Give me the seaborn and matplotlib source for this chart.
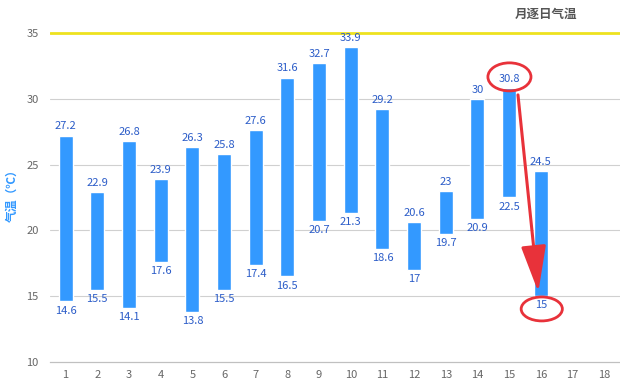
import matplotlib
matplotlib.use("Agg")
import pandas as pd
import seaborn as sns
import matplotlib.pyplot as plt
from matplotlib.patches import Ellipse

# daily temperature range
days      = [str(d) for d in range(1, 17)]
all_days  = [str(d) for d in range(1, 19)]
max_temp  = [27.2, 22.9, 26.8, 23.9, 26.3, 25.8, 27.6, 31.6, 32.7, 33.9, 29.2, 20.6, 23, 30, 30.8, 24.5]
min_temp  = [14.6, 15.5, 14.1, 17.6, 13.8, 15.5, 17.4, 16.5, 20.7, 21.3, 18.6, 17, 19.7, 20.9, 22.5, 15]
y_ticks   = [10, 15, 20, 25, 30, 35]
hot_line  = 35

sns.set_theme(style="white")
plt.rcParams['font.family'] = ['Noto Sans CJK SC', 'DejaVu Sans']

df = pd.DataFrame({'day': days, 'lo': min_temp, 'hi': max_temp})
df['span'] = df['hi'] - df['lo']

fig = plt.figure(figsize=(6.2, 3.86), dpi=100)
ax = fig.add_axes([0.0803, 0.0622, 0.9197, 0.9378])

sns.barplot(data=df, x='day', y='span', order=all_days, color='#3399ff',
            saturation=1, width=0.44, ax=ax)

# float the bars: move each bar up to its minimum
for patch, lo in zip(ax.patches, df['lo']):
    patch.set_y(lo)

label_col = '#2b5cc8'
for i, (lo, hi) in enumerate(zip(df['lo'], df['hi'])):
    ax.annotate(f"{hi:g}", (i, hi), xytext=(0, 3), textcoords='offset points',
                ha='center', va='bottom', fontsize=8, color=label_col)
    ax.annotate(f"{lo:g}", (i, lo), xytext=(0, -3), textcoords='offset points',
                ha='center', va='top', fontsize=8, color=label_col)

ax.set_ylim(10, 37.5)
ax.set_xlim(-0.5, 17.1)
ax.set_yticks(y_ticks)
ax.set_yticklabels([str(t) for t in y_ticks], fontsize=8, color='#666666')
ax.set_xticks(range(len(all_days)))
ax.set_xticklabels(all_days, fontsize=8, color='#666666')
ax.set_xticks([i + 0.5 for i in range(len(all_days))], minor=True)
ax.tick_params(axis='x', which='major', length=0, pad=6)
ax.tick_params(axis='x', which='minor', length=4, color='#bbbbbb', width=0.8, direction='out')
ax.tick_params(axis='y', length=0, pad=8)

for t in y_ticks[1:-1]:
    ax.axhline(t, color='#d0d0d0', lw=0.8, zorder=0)
ax.axhline(hot_line, color='#eee21f', lw=2, zorder=1)

for s in ['top', 'right', 'left']:
    ax.spines[s].set_visible(False)
ax.spines['bottom'].set_color('#c0c0c0')
ax.spines['bottom'].set_linewidth(0.9)

ax.set_xlabel('')
ax.set_ylabel('')
fig.text(0.019, 0.5, '气温（℃）', rotation=90, ha='center', va='center',
         fontsize=8.5, color='#3399ff', fontweight='bold')
fig.text(0.88, 0.963, '月逐日气温', ha='center', va='center', fontsize=9,
         color='#555555', fontweight='bold')

# highlight: drop from day 15 max to day 16 min
red = '#e8323a'
ax.add_patch(Ellipse((14.01, 31.66), 1.36, 2.13, fill=False, ec=red, lw=2, zorder=5))
ax.add_patch(Ellipse((15.03, 14.03), 1.3, 1.82, fill=False, ec=red, lw=2, zorder=5))
ax.annotate('', xy=(14.93, 15.1), xytext=(14.27, 30.5),
            arrowprops=dict(arrowstyle='-|>,head_length=1.3,head_width=0.35',
                            color=red, lw=2.2, mutation_scale=22), zorder=6)

fig.savefig('out.png', dpi=100)
